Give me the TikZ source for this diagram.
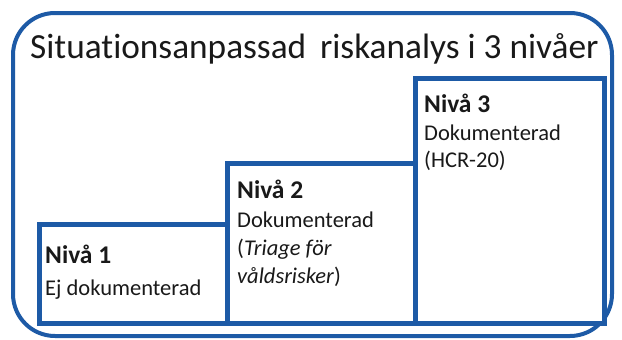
\documentclass[tikz,border=0pt]{standalone}
\usepackage{fontspec}
\setmainfont{Carlito}[Ligatures=NoCommon]
\definecolor{frameblue}{HTML}{1D5AA6}
\begin{document}
\begin{tikzpicture}[x=1pt,y=-1pt,
  stepbox/.style={draw=frameblue,line width=4.5pt,fill=white,inner sep=0pt,anchor=north west},
  head/.style={anchor=base west,inner sep=0pt,font=\fontsize{25.5}{28}\selectfont\bfseries,text=black!90},
  sub/.style={anchor=base west,inner sep=0pt,font=\fontsize{22.5}{26}\selectfont,text=black!90}]
\useasboundingbox (0,0) rectangle (622,340);
\draw[frameblue,line width=4pt,rounded corners=42pt] (13,13) rectangle (612,336);
\node[anchor=base west,inner sep=0pt,font=\fontsize{35.3}{40}\selectfont,text=black!90] (title) at (30,58) {Situationsanpassad\, riskanalys i 3 nivåer};
\node[stepbox,minimum width=188pt,minimum height=99pt] (b1) at (37,222) {};
\node[stepbox,minimum width=188pt,minimum height=160pt] (b2) at (225,161) {};
\node[stepbox,minimum width=189pt,minimum height=245pt] (b3) at (413,76) {};
\node[head] (h1) at (45,263) {Nivå 1};
\node[sub] (s1) at (45,295) {Ej dokumenterad};
\node[head] (h2) at (237,198) {Nivå 2};
\node[sub] (s2a) at (237,227) {Dokumenterad};
\node[sub] (s2b) at (237,255) {(\textit{Triage för}};
\node[sub] (s2c) at (237,283) {\textit{våldsrisker})};
\node[head] (h3) at (424,112) {Nivå 3};
\node[sub] (s3a) at (424,140) {Dokumenterad};
\node[sub] (s3b) at (424,167) {(HCR-20)};
\end{tikzpicture}
\end{document}
